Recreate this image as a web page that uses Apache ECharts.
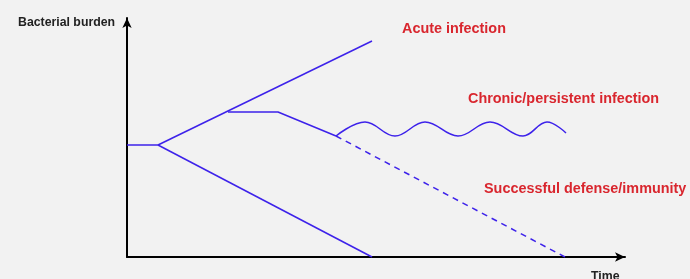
<!DOCTYPE html>
<html>
<head>
<meta charset="utf-8">
<script src="https://cdn.jsdelivr.net/npm/echarts@6/dist/echarts.min.js"></script>
<style>html,body{margin:0;padding:0;background:#f2f2f2;}#c{width:690px;height:279px;}</style>
</head>
<body>
<div id="c"></div>
<script>
// Values read from the schematic (x = time units, y = burden units)
const baselineX = [0, 31];
const baselineY = [112, 112];
const acuteX = [31, 245];
const acuteY = [112, 216];
const plateauX = [101, 151, 209];
const plateauY = [145, 145, 121];
const defenseX = [209, 438];
const defenseY = [121, 0];
const lowerX = [31, 245];
const lowerY = [112, 0];
const waveX = [209, 238, 268, 298, 331, 363, 396, 420, 439];
const waveY = [121, 135, 121, 135, 121, 135, 121, 135, 124];
const labels = ["Acute infection", "Chronic/persistent infection", "Successful defense/immunity"];
const yName = "Bacterial burden";
const xName = "Time";

const zip = (xs, ys) => xs.map((x, i) => [x, ys[i]]);
const blue = '#3d22ea';
const lineSeries = (data, extra) => Object.assign({
  type: 'line', data: data, symbol: 'none', silent: true,
  lineStyle: { color: blue, width: 1.5 }
}, extra || {});

const chart = echarts.init(document.getElementById('c'));
chart.setOption({
  backgroundColor: '#f2f2f2',
  animation: false,
  grid: { left: 127, top: 18, width: 498, height: 239 },
  xAxis: {
    type: 'value', min: 0, max: 498,
    axisLine: { lineStyle: { color: '#000', width: 2 }, symbol: ['none', 'arrow'], symbolSize: [7, 10] },
    axisTick: { show: false }, axisLabel: { show: false }, splitLine: { show: false }
  },
  yAxis: {
    type: 'value', min: 0, max: 239,
    axisLine: { show: true, lineStyle: { color: '#000', width: 2 }, symbol: ['none', 'arrow'], symbolSize: [7, 10] },
    axisTick: { show: false }, axisLabel: { show: false }, splitLine: { show: false }
  },
  series: [
    lineSeries(zip(baselineX, baselineY)),
    lineSeries(zip(acuteX, acuteY)),
    lineSeries(zip(plateauX, plateauY)),
    lineSeries(zip(defenseX, defenseY), { lineStyle: { color: blue, width: 1.5, type: [6, 5] } }),
    lineSeries(zip(lowerX, lowerY)),
    lineSeries(zip(waveX, waveY), { smooth: 0.4 })
  ],
  graphic: [
    { type: 'text', left: 18, top: 17, style: { text: yName, font: 'bold 12.3px "Liberation Sans", Arial', fill: '#222' } },
    { type: 'text', left: 591, top: 271, style: { text: xName, font: 'bold 12.3px "Liberation Sans", Arial', fill: '#222' } },
    { type: 'text', left: 402, top: 22, style: { text: labels[0], font: 'bold 14.4px "Liberation Sans", Arial', fill: '#d9262e' } },
    { type: 'text', left: 468, top: 92, style: { text: labels[1], font: 'bold 14.4px "Liberation Sans", Arial', fill: '#d9262e' } },
    { type: 'text', left: 484, top: 182, style: { text: labels[2], font: 'bold 14.4px "Liberation Sans", Arial', fill: '#d9262e' } }
  ]
});
</script>
</body>
</html>
